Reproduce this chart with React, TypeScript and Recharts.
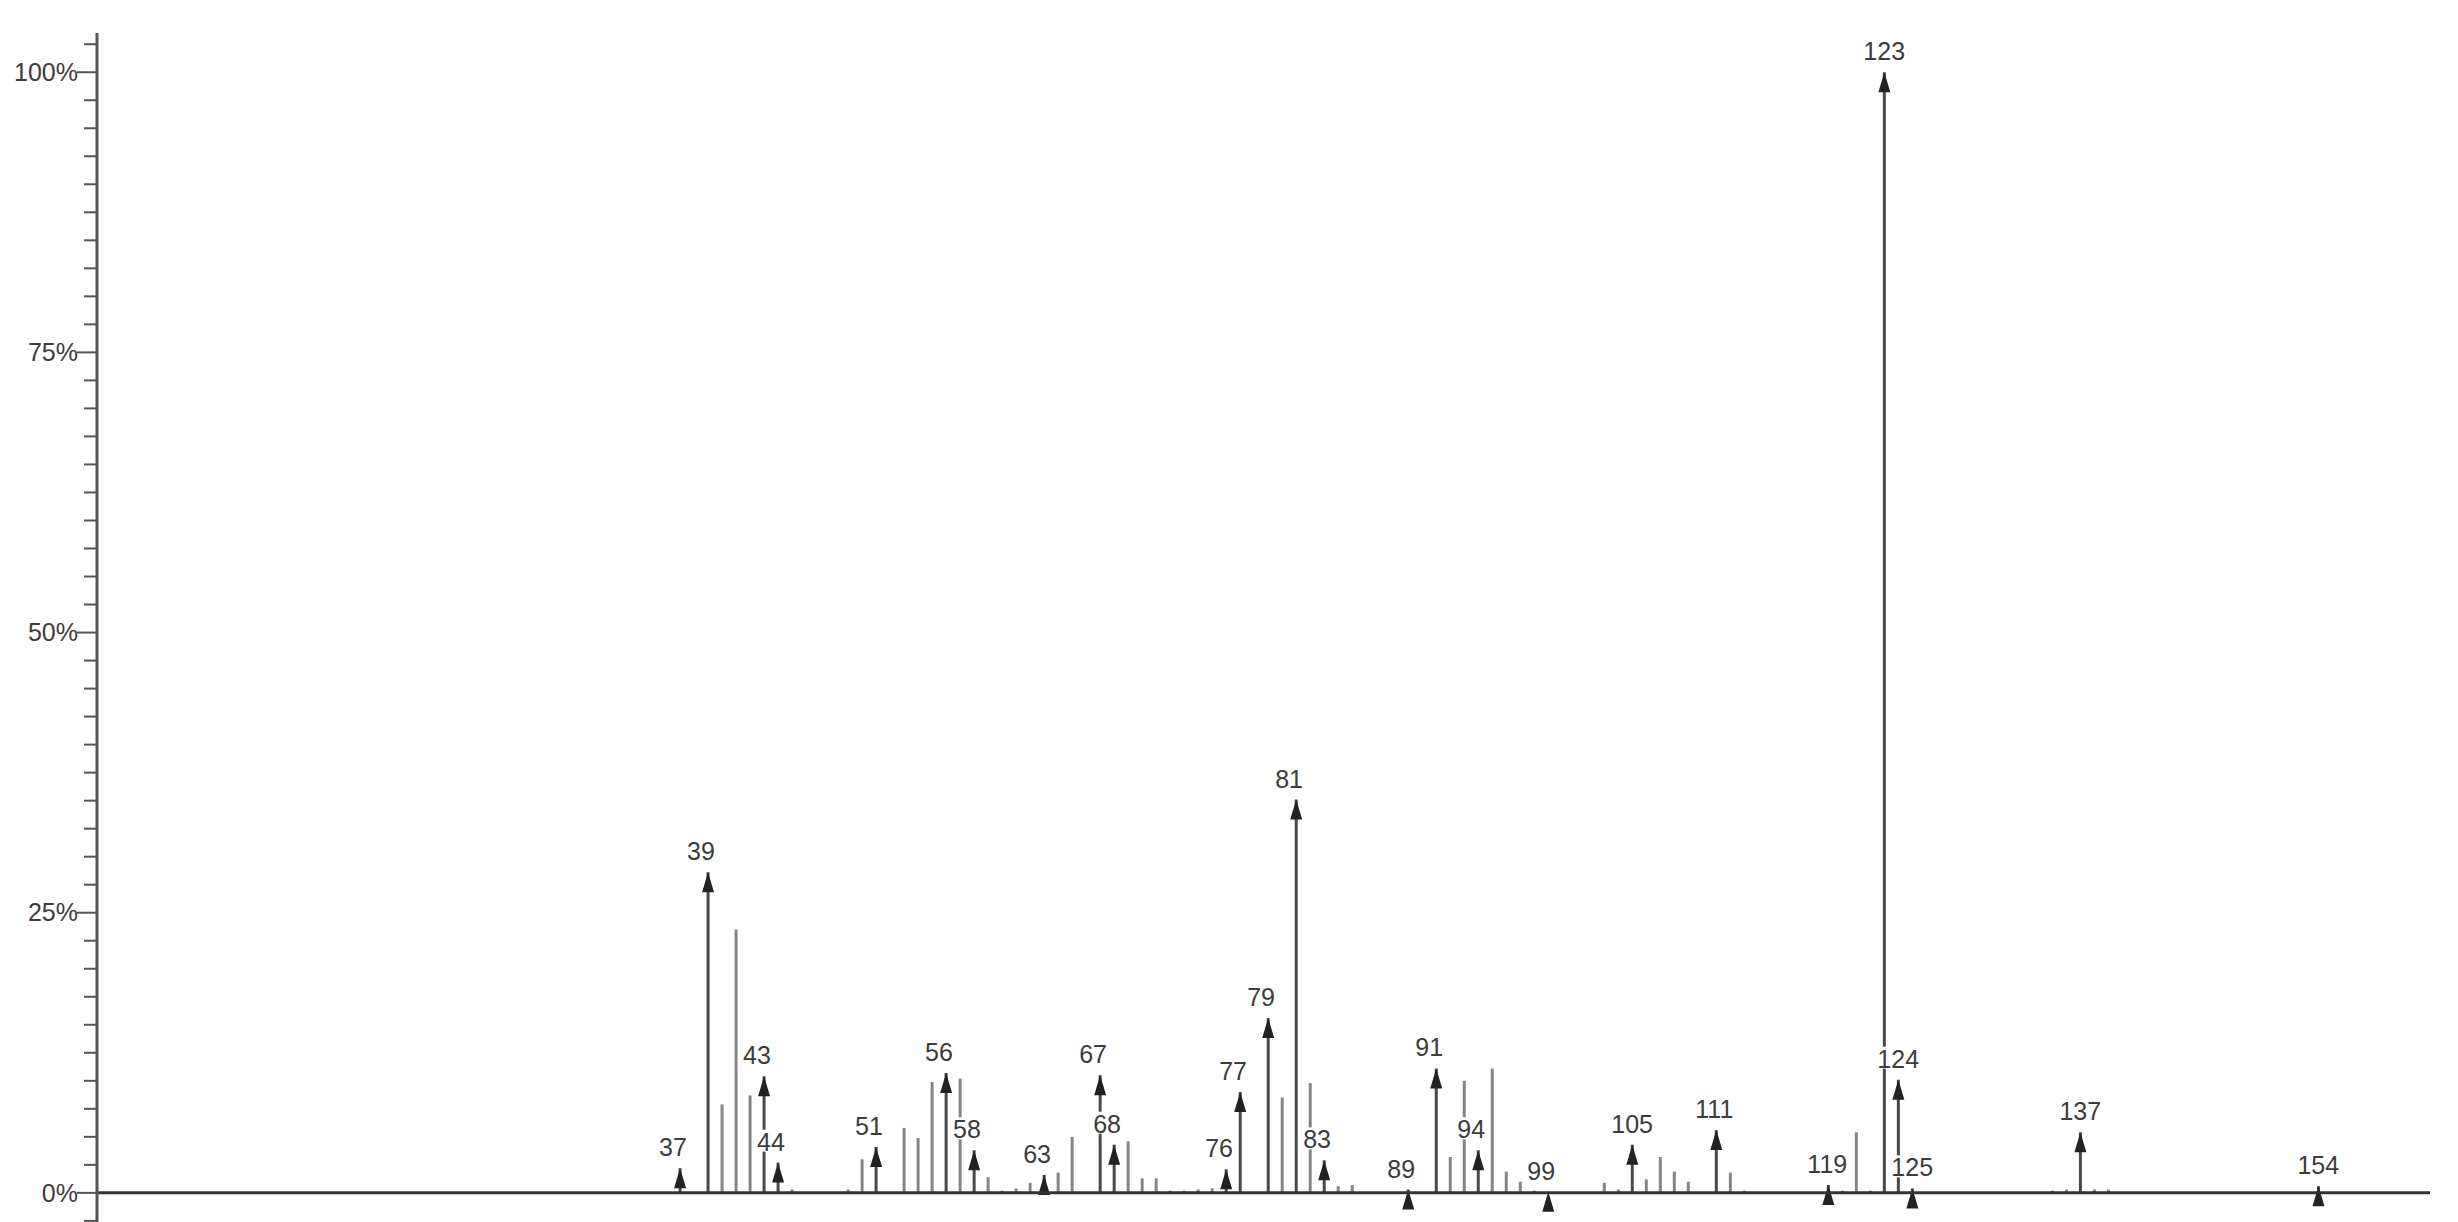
import React from "react";
import { Bar, ComposedChart, ReferenceLine, XAxis, YAxis } from "recharts";

// m/z of each peak and its relative intensity (%)
const MZ = [
  37, 39, 40, 41, 42, 43, 44, 45, 49, 50, 51, 53, 54, 55, 56, 57, 58, 59, 60, 61, 62, 63, 64, 65, 67, 68, 69, 70,
  71, 72, 73, 74, 75, 76, 77, 79, 80, 81, 82, 83, 84, 85, 89, 91, 92, 93, 94, 95, 96, 97, 98, 99, 103, 104, 105,
  106, 107, 108, 109, 111, 112, 113, 119, 120, 121, 122, 123, 124, 125, 135, 136, 137, 138, 139, 154,
];
const INTENSITY = [
  2.2, 28.6, 7.9, 23.5, 8.7, 10.4, 2.7, 0.3, 0.3, 3.0, 4.1, 5.8, 4.9, 9.9, 10.7, 10.2, 3.8, 1.4, 0.2, 0.4, 0.9, 1.6,
  1.8, 5.0, 10.5, 4.3, 4.6, 1.3, 1.3, 0.2, 0.2, 0.3, 0.4, 2.1, 9.0, 15.6, 8.5, 35.1, 9.8, 2.9, 0.6, 0.7, 0.3, 11.1,
  3.2, 10.0, 3.8, 11.1, 1.9, 1.0, 0.2, 0.1, 0.9, 0.3, 4.3, 1.2, 3.2, 1.9, 1.0, 5.6, 1.8, 0.2, 0.7, 0.2, 5.4, 0.2,
  100, 10.1, 0.4, 0.2, 0.3, 5.4, 0.3, 0.3, 0.6,
];
// peaks that carry an arrow and an m/z label
const LABELED = [37, 39, 43, 44, 51, 56, 58, 63, 67, 68, 76, 77, 79, 81, 83, 89, 91, 94, 99, 105, 111, 119, 123, 124, 125, 137, 154];

const MAJOR_TICKS = [0, 25, 50, 75, 100];
const MAJOR_LABELS = ["0%", "25%", "50%", "75%", "100%"];
const ALL_TICKS = [
  -2.5, 0, 2.5, 5, 7.5, 10, 12.5, 15, 17.5, 20, 22.5, 25, 27.5, 30, 32.5, 35, 37.5, 40, 42.5, 45, 47.5, 50, 52.5, 55,
  57.5, 60, 62.5, 65, 67.5, 70, 72.5, 75, 77.5, 80, 82.5, 85, 87.5, 90, 92.5, 95, 97.5, 100, 102.5,
];

const FONT = "'Liberation Sans', Arial, sans-serif";

const data = MZ.map((mz, i) => ({ mz, pct: INTENSITY[i], labeled: LABELED.includes(mz) }));

function YTick(props: any) {
  const { x, y, payload } = props;
  const idx = MAJOR_TICKS.indexOf(payload.value);
  const major = idx >= 0;
  return (
    <g>
      <line x1={x - (major ? 20 : 13)} x2={x} y1={y} y2={y} stroke="#555" strokeWidth={2} />
      {major && (
        <text x={x - 19} y={y} dy="0.35em" textAnchor="end" fontSize={25} fontFamily={FONT} fill="#3c3c3c">
          {MAJOR_LABELS[idx]}
        </text>
      )}
    </g>
  );
}

function Peak(props: any) {
  const { x, y, width, height, payload } = props;
  if (x == null || y == null) return null;
  const cx = x + width / 2;
  const base = y + height;
  const label = String(payload.mz);
  const tw = label.length * 13.9;
  return (
    <g>
      <line
        x1={cx}
        x2={cx}
        y1={y}
        y2={base}
        stroke={payload.labeled ? "#4a4a4a" : "#858585"}
        strokeWidth={3}
      />
      {payload.labeled && (
        <g>
          <path d={`M${cx},${y} L${cx - 6},${y + 20} L${cx + 6},${y + 20} Z`} fill="#222" />
          <rect x={cx - 23} y={y - 33} width={tw + 4} height={22} fill="#fff" />
          <text x={cx - 21} y={y - 12} fontSize={25} fontFamily={FONT} fill="#3c3c3c">
            {label}
          </text>
        </g>
      )}
    </g>
  );
}

export default function App() {
  return (
    <div style={{ position: "absolute", left: 0, top: 0, width: 2458, height: 1222, background: "#fff" }}>
      <ComposedChart
        width={2458}
        height={1222}
        data={data}
        margin={{ top: 33, right: 28, bottom: 0, left: 0 }}
        style={{ overflow: "visible" }}
      >
        <XAxis type="number" dataKey="mz" domain={[-4.6, 162]} hide allowDataOverflow />
        <YAxis
          type="number"
          domain={[-2.6, 103.5]}
          ticks={ALL_TICKS}
          interval={0}
          width={97}
          tickSize={0}
          tickMargin={0}
          tickLine={false}
          tick={<YTick />}
          axisLine={{ stroke: "#555", strokeWidth: 3 }}
          allowDataOverflow
        />
        <ReferenceLine y={0} stroke="#333" strokeWidth={3} />
        <Bar dataKey="pct" barSize={3} shape={<Peak />} isAnimationActive={false} />
      </ComposedChart>
    </div>
  );
}
